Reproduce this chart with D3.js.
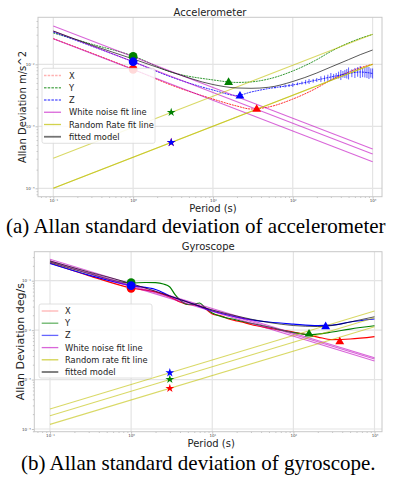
<!DOCTYPE html>
<html>
<head>
<meta charset="utf-8">
<script src="https://cdn.jsdelivr.net/npm/d3@7"></script>
<style>
  body { margin: 0; background: #fff; }
  svg { display: block; }
  text { font-family: "DejaVu Sans", sans-serif; }
  .caption { font-family: "Liberation Serif", "Times New Roman", serif; }
</style>
</head>
<body>
<svg id="fig" width="393" height="477"></svg>
<script>
// ---------- accelerometer data (m/s^2) ----------
var accPeriods = [0.1, 0.3, 1, 3, 10, 20, 30, 50, 100, 200, 300, 500, 700, 1000];
var accX     = [0.0259, 0.0152, 0.0083, 0.00463, 0.00275, 0.00212, 0.0019, 0.00205, 0.00275, 0.00415, 0.00558, 0.00751, 0.0088, 0.0100];
var accY     = [0.0320, 0.0212, 0.0136, 0.0075, 0.0056, 0.0051, 0.0052, 0.0058, 0.0078, 0.0119, 0.0161, 0.0221, 0.0262, 0.0303];
var accZ     = [0.0332, 0.0197, 0.0110, 0.00624, 0.00385, 0.00314, 0.00357, 0.00407, 0.00464, 0.00558, 0.00624, 0.00711, 0.00751, 0.00711];
var accModel = [0.0344, 0.0205, 0.0122, 0.0075, 0.00472, 0.00415, 0.0041, 0.00426, 0.00528, 0.00724, 0.00904, 0.0119, 0.0143, 0.0170];
// noisy band on the Z curve (low / high)
var accZErrTau = [60, 70, 80, 90, 100, 115, 130, 145, 160, 180, 200, 225, 250, 275, 300, 325, 350, 375, 400, 425, 450, 475, 500, 550, 600, 650, 700, 750, 800, 850, 900, 950, 1000];
var accZErrLo  = [0.00407, 0.00418, 0.00423, 0.0043, 0.00431, 0.0046, 0.00472, 0.00475, 0.00482, 0.00505, 0.00519, 0.0052, 0.00528, 0.0054, 0.00537, 0.0057, 0.00579, 0.0059, 0.00557, 0.0061, 0.00601, 0.0059, 0.00569, 0.0062, 0.00601, 0.0063, 0.00601, 0.0062, 0.00612, 0.006, 0.00579, 0.0061, 0.0059];
var accZErrHi  = [0.00439, 0.0045, 0.00472, 0.0048, 0.00499, 0.0051, 0.00527, 0.0056, 0.00579, 0.0058, 0.00601, 0.0064, 0.00659, 0.0068, 0.00724, 0.0070, 0.00723, 0.0076, 0.00809, 0.0078, 0.00811, 0.0084, 0.00889, 0.0083, 0.00873, 0.0090, 0.0094, 0.0087, 0.00889, 0.0092, 0.00906, 0.0086, 0.00857];
// fit lines, value at tau = 0.1 and tau = 1000
var fitTau = [0.1, 1000];
var accWhiteX = [0.0259, 0.000269];
var accWhiteY = [0.0415, 0.00043];
var accWhiteZ = [0.0344, 0.000357];
var accRateX = [0.0001, 0.01];
var accRateY = [0.000305, 0.0305];
var accRateZ = [0.0001, 0.01];
// markers, order X, Y, Z
var accCircleTau = 1,  accCircleVals = [0.0083, 0.0134, 0.0110];
var accStarTau = 3,    accStarVals   = [0.00055, 0.00168, 0.00055];
var accTriTau  = [35.3, 15.7, 21.8], accTriVals = [0.00188, 0.0051, 0.00308];

// ---------- gyroscope data (deg/s) ----------
var gyrTauX = [0.1, 0.3, 1, 2, 3, 4, 5, 6, 8, 10, 13, 16, 20, 25, 30, 50, 100, 200, 300, 500, 1000];
var gyrX    = [0.228, 0.127, 0.0712, 0.059, 0.0468, 0.0371, 0.033, 0.0322, 0.028, 0.0212, 0.0193, 0.0168, 0.0153, 0.0142, 0.013, 0.011, 0.00916, 0.00725, 0.00645, 0.00661, 0.00741];
var gyrTauY = [0.1, 0.3, 1, 1.5, 2, 2.5, 3, 3.5, 4, 5, 6, 7, 8, 10, 20, 50, 100, 150, 200, 300, 500, 1000];
var gyrY    = [0.239, 0.14, 0.0898, 0.092, 0.0912, 0.0858, 0.0745, 0.0514, 0.0407, 0.033, 0.0337, 0.0354, 0.0294, 0.0222, 0.016, 0.01156, 0.00894, 0.00814, 0.00834, 0.00916, 0.01052, 0.01227];
var gyrTauZ = [0.1, 0.3, 1, 2, 3, 5, 10, 20, 50, 100, 200, 300, 500, 1000];
var gyrZ    = [0.223, 0.13, 0.0792, 0.0664, 0.049, 0.0371, 0.0244, 0.0184, 0.01459, 0.01328, 0.01239, 0.01268, 0.01459, 0.01679];
var gyrTauModel = [0.1, 0.3, 1, 3, 10, 20, 50, 100, 200, 300, 500, 1000];
var gyrModel    = [0.251, 0.15, 0.0878, 0.049, 0.0255, 0.0193, 0.01426, 0.01239, 0.01183, 0.01239, 0.01459, 0.01866];
var gyrWhiteX = [0.243, 0.00237];
var gyrWhiteY = [0.271, 0.00276];
var gyrWhiteZ = [0.254, 0.0026];
var gyrRateX = [0.000124, 0.0117];
var gyrRateY = [0.000185, 0.0178];
var gyrRateZ = [0.000253, 0.0244];
var gyrCircleTau = 1, gyrCircleVals = [0.0702, 0.0912, 0.0792];
var gyrStarTau = 3,   gyrStarVals   = [0.000664, 0.00101, 0.001374];
var gyrTriTau = [373, 156, 250], gyrTriVals = [0.00582, 0.00834, 0.01172];

var xMajor = [0.1, 1, 10, 100, 1000];
var axisColors = ["#ff0000", "#008000", "#0000ff"];

var svg = d3.select("#fig");
var sup = {"-": "\u207B", "0": "\u2070", "1": "\u00B9", "2": "\u00B2", "3": "\u00B3", "4": "\u2074", "5": "\u2075"};
function pow10(v) {
  var e = Math.round(Math.log10(v));
  return "10" + String(e).split("").map(function(c) { return sup[c]; }).join("");
}
function zip(t, v) { return t.map(function(d, i) { return [d, v[i]]; }); }

function drawPanel(o) {
  var g = svg.append("g");
  var x = d3.scaleLog().domain([0.1, 1000]).range(o.xr);
  var y = d3.scaleLog().domain(o.yd).range(o.yr);
  var f = o.frame; // [x0, y0, x1, y1]

  // gridlines
  g.selectAll(".gx").data(xMajor).enter().append("line")
    .attr("x1", x).attr("x2", x).attr("y1", f[1]).attr("y2", f[3])
    .style("stroke", "#e4e4e4").style("stroke-width", 1.2);
  g.selectAll(".gy").data(o.yMajor).enter().append("line")
    .attr("y1", y).attr("y2", y).attr("x1", f[0]).attr("x2", f[2])
    .style("stroke", "#e4e4e4").style("stroke-width", 1.2);

  // minor tick values inside the frame
  var minX = [], minY = [];
  for (var p = -2; p <= 3; p++) for (var k = 2; k < 10; k++) {
    var v = k * Math.pow(10, p);
    if (x(v) > f[0] && x(v) < f[2]) minX.push(v);
  }
  for (var p = -6; p <= 0; p++) for (var k = 2; k < 10; k++) {
    var v = k * Math.pow(10, p);
    if (y(v) > f[1] && y(v) < f[3]) minY.push(v);
  }

  // axes
  var ax = g.append("g").attr("transform", "translate(0," + f[3] + ")");
  ax.call(d3.axisBottom(x).tickValues(xMajor).tickSize(2).tickPadding(0.4).tickFormat(pow10));
  ax.append("g").call(d3.axisBottom(x).tickValues(minX).tickSize(1.2).tickFormat(""));
  var ay = g.append("g").attr("transform", "translate(" + f[0] + ",0)");
  ay.call(d3.axisLeft(y).tickValues(o.yMajor).tickSize(2.5).tickPadding(1).tickFormat(pow10));
  ay.append("g").call(d3.axisLeft(y).tickValues(minY).tickSize(1.4).tickFormat(""));
  g.selectAll(".domain").remove();
  g.selectAll(".tick line").style("stroke", "#999").style("stroke-width", 0.6);
  g.selectAll(".tick text").style("font-size", "4px").style("fill", "#444")
    .style("font-family", "DejaVu Sans");

  // frame
  g.append("rect").attr("x", f[0]).attr("y", f[1]).attr("width", f[2] - f[0]).attr("height", f[3] - f[1])
    .style("fill", "none").style("stroke", "#c8c8c8").style("stroke-width", 1);

  // clip for plotted data
  var clipId = "clip" + o.name;
  g.append("clipPath").attr("id", clipId).append("rect")
    .attr("x", f[0]).attr("y", f[1]).attr("width", f[2] - f[0]).attr("height", f[3] - f[1]);
  var plot = g.append("g").attr("clip-path", "url(#" + clipId + ")");

  var line = d3.line().x(function(d) { return x(d[0]); }).y(function(d) { return y(d[1]); })
    .curve(d3.curveMonotoneX);
  var straight = d3.line().x(function(d) { return x(d[0]); }).y(function(d) { return y(d[1]); });

  // measured curves
  o.curves.forEach(function(c, i) {
    plot.append("path").attr("d", line(zip(c.tau, c.val)))
      .style("fill", "none").style("stroke", axisColors[i]).style("stroke-width", o.dashed ? 1 : 1.2)
      .style("stroke-dasharray", o.dashed ? "2,0.8" : null)
      .style("opacity", o.dashed ? 0.8 : 1);
  });
  if (o.err) {
    plot.selectAll(".err").data(o.err.tau).enter().append("line")
      .attr("x1", x).attr("x2", x)
      .attr("y1", function(d, i) { return y(o.err.lo[i]); })
      .attr("y2", function(d, i) { return y(o.err.hi[i]); })
      .style("stroke", "#0000ff").style("stroke-width", 0.8).style("stroke-opacity", 0.8);
  }
  // white noise fit lines
  o.white.forEach(function(w) {
    plot.append("path").attr("d", straight(zip(fitTau, w)))
      .style("fill", "none").style("stroke", "#bf00bf").style("stroke-opacity", 0.6).style("stroke-width", 1.1);
  });
  // random rate fit lines
  o.rate.forEach(function(r) {
    plot.append("path").attr("d", straight(zip(fitTau, r)))
      .style("fill", "none").style("stroke", "#bfbf00").style("stroke-opacity", 0.6).style("stroke-width", 1.1);
  });
  // fitted model
  plot.append("path").attr("d", line(zip(o.model.tau, o.model.val)))
    .style("fill", "none").style("stroke", "#000").style("stroke-opacity", 0.65).style("stroke-width", 1);

  // markers
  var circ = d3.symbol().type(d3.symbolCircle).size(60);
  var tri = d3.symbol().type(d3.symbolTriangle).size(34);
  var star = d3.symbol().type(d3.symbolStar).size(24);
  [0, 1, 2].forEach(function(i) {
    g.append("path").attr("d", circ())
      .attr("transform", "translate(" + x(o.circleTau) + "," + y(o.circleVals[i]) + ")")
      .style("fill", axisColors[i]);
  });
  [0, 1, 2].forEach(function(i) {
    g.append("path").attr("d", tri())
      .attr("transform", "translate(" + x(o.triTau[i]) + "," + y(o.triVals[i]) + ")")
      .style("fill", axisColors[i]);
  });
  [0, 1, 2].forEach(function(i) {
    g.append("path").attr("d", star())
      .attr("transform", "translate(" + x(o.starTau) + "," + y(o.starVals[i]) + ")")
      .style("fill", axisColors[i]);
  });

  // legend
  var L = o.legend;
  var lg = g.append("g");
  lg.append("rect").attr("x", L.x).attr("y", L.y).attr("width", L.w).attr("height", L.h)
    .attr("rx", 2).style("fill", "#fff").style("fill-opacity", 0.85).style("stroke", "#d8d8d8").style("stroke-width", 0.8);
  var items = [
    {t: "X", c: "#ff0000", op: 0.3, dash: o.dashed},
    {t: "Y", c: "#008000", op: 0.6, dash: o.dashed},
    {t: "Z", c: "#0000ff", op: 0.6, dash: o.dashed},
    {t: "White noise fit line", c: "#bf00bf", op: 0.6},
    {t: o.rateLabel, c: "#bfbf00", op: 0.7},
    {t: "fitted model", c: "#000", op: 0.55, w: 1.8}
  ];
  items.forEach(function(it, i) {
    var ry = L.row0 + i * L.dy;
    lg.append("line").attr("x1", L.lx0).attr("x2", L.lx1).attr("y1", ry).attr("y2", ry)
      .style("stroke", it.c).style("stroke-opacity", it.op).style("stroke-width", it.w || 1.3)
      .style("stroke-dasharray", it.dash ? "2.5,1.2" : null);
    lg.append("text").attr("x", L.tx).attr("y", ry + 3).text(it.t)
      .style("font-size", "8.3px").style("fill", "#222");
  });

  // titles and labels
  g.append("text").attr("x", (f[0] + f[2]) / 2).attr("y", o.titleY).attr("text-anchor", "middle")
    .style("font-size", "10px").style("fill", "#222").text(o.title);
  g.append("text").attr("x", (f[0] + f[2]) / 2 + 3).attr("y", o.xLabelY).attr("text-anchor", "middle")
    .style("font-size", "10px").style("fill", "#222").text("Period (s)");
  g.append("text").attr("transform", "translate(" + o.yLabelX + "," + ((f[1] + f[3]) / 2) + ") rotate(-90)")
    .attr("text-anchor", "middle").style("font-size", o.yLabelSize).style("fill", "#222").text(o.yLabel);
  svg.append("text").attr("class", "caption").attr("x", o.capX).attr("y", o.capY)
    .style("font-size", "21px").style("fill", "#000").text(o.caption);
}

drawPanel({
  name: "acc", frame: [38, 17.3, 382, 196.7],
  xr: [53.3, 372.6], yd: [1e-2, 1e-4], yr: [64.3, 188.3], yMajor: [1e-2, 1e-3, 1e-4],
  dashed: true,
  curves: [{tau: accPeriods, val: accX}, {tau: accPeriods, val: accY}, {tau: accPeriods, val: accZ}],
  err: {tau: accZErrTau, lo: accZErrLo, hi: accZErrHi},
  white: [accWhiteX, accWhiteZ, accWhiteY],
  rate: [accRateX, accRateY, accRateZ],
  model: {tau: accPeriods, val: accModel},
  circleTau: accCircleTau, circleVals: accCircleVals,
  starTau: accStarTau, starVals: accStarVals,
  triTau: accTriTau, triVals: accTriVals,
  legend: {x: 42, y: 68.3, w: 113, h: 75, row0: 75.5, dy: 12.25, lx0: 44, lx1: 61, tx: 69},
  rateLabel: "Random Rate fit line",
  title: "Accelerometer", titleY: 15.5, xLabelY: 211.5, yLabelX: 25.5,
  yLabel: "Allan Deviation m/s^2", yLabelSize: "10px",
  caption: "(a) Allan standard deviation of accelerometer", capX: 6, capY: 233
});

drawPanel({
  name: "gyr", frame: [34.3, 251.7, 382, 431.7],
  xr: [50, 374.5], yd: [1e-1, 1e-4], yr: [280.7, 429], yMajor: [1e-1, 1e-2, 1e-3, 1e-4],
  dashed: false,
  curves: [{tau: gyrTauX, val: gyrX}, {tau: gyrTauY, val: gyrY}, {tau: gyrTauZ, val: gyrZ}],
  white: [gyrWhiteX, gyrWhiteZ, gyrWhiteY],
  rate: [gyrRateX, gyrRateY, gyrRateZ],
  model: {tau: gyrTauModel, val: gyrModel},
  circleTau: gyrCircleTau, circleVals: gyrCircleVals,
  starTau: gyrStarTau, starVals: gyrStarVals,
  triTau: gyrTriTau, triVals: gyrTriVals,
  legend: {x: 39, y: 304, w: 113, h: 74, row0: 311, dy: 12.2, lx0: 41.7, lx1: 58.3, tx: 65},
  rateLabel: "Random rate fit line",
  title: "Gyroscope", titleY: 249.5, xLabelY: 446.5, yLabelX: 23.5,
  yLabel: "Allan Deviation deg/s", yLabelSize: "11px",
  caption: "(b) Allan standard deviation of gyroscope.", capX: 21, capY: 470
});
</script>
</body>
</html>
